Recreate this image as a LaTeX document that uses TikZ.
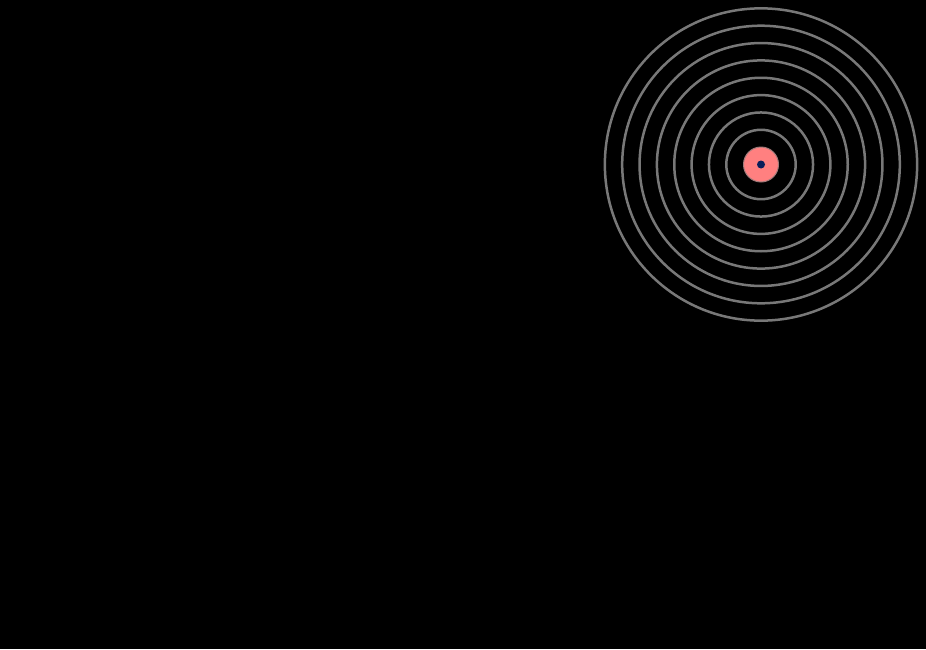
\documentclass[tikz,border=0pt]{standalone}
\usepackage{tikz}

\definecolor{ringgray}{RGB}{120,120,120}
\definecolor{corepink}{RGB}{255,128,128}
\definecolor{dotnavy}{RGB}{10,30,90}

\begin{document}
\begin{tikzpicture}[x=0.02cm, y=-0.02cm,
  ring/.style={draw=ringgray, line width=0.05cm},
  core/.style={fill=corepink, draw=ringgray!70!corepink, line width=0.02cm}]

  % Fondo negro (fija los margenes)
  \fill[black] (0, 0) rectangle (926, 649);
  \useasboundingbox (0, 0) rectangle (926, 649);

  % Centro de los anillos
  \coordinate (ctr) at (761, 164.5);

  % Anillos concentricos grises
  \foreach \k in {2, 3, 4, 5, 6, 7, 8, 9} {
    \draw[ring] (ctr) circle ({17.35*\k*0.02cm});
  }

  % Nucleo rosado y punto central
  \draw[core] (ctr) circle (0.35cm);
  \fill[dotnavy] (ctr) circle (0.08cm);

\end{tikzpicture}
\end{document}
